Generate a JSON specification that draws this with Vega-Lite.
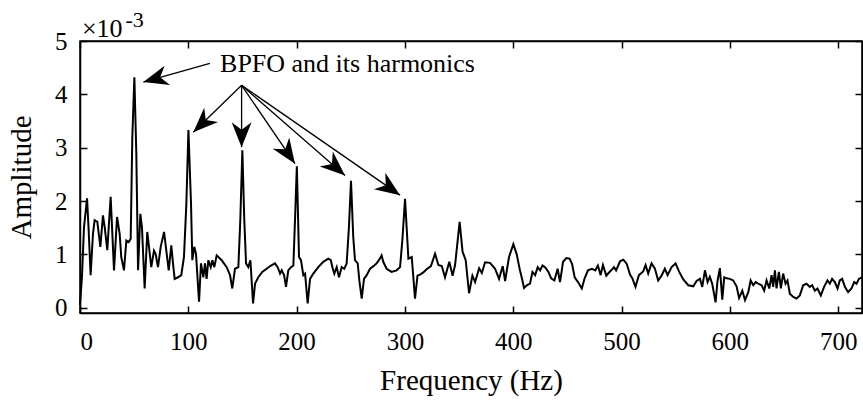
{
  "$schema": "https://vega.github.io/schema/vega-lite/v6.json",
  "width": 782,
  "height": 272,
  "autosize": {"type": "none"},
  "padding": {"left": 80, "top": 41, "right": 1, "bottom": 88},
  "background": "white",
  "config": {
    "view": {"stroke": "black", "strokeWidth": 1.5},
    "font": "Liberation Serif",
    "axis": {
      "grid": false,
      "domainColor": "black",
      "domainWidth": 1.5,
      "tickColor": "black",
      "tickWidth": 1.5,
      "labelColor": "black",
      "titleColor": "black",
      "labelFont": "Liberation Serif",
      "titleFont": "Liberation Serif",
      "titleFontWeight": "normal",
      "labelFontSize": 25,
      "titleFontSize": 29
    }
  },
  "datasets": {
    "spectrum": [
      {"f":0,"a":0.05},{"f":1.8,"a":0.57},{"f":3.7,"a":1.51},{"f":6.5,"a":2.05},{"f":8,"a":1.45},{"f":9.8,"a":0.61},
      {"f":12,"a":1.39},{"f":13.5,"a":1.64},{"f":16,"a":1.61},{"f":18.8,"a":1.14},{"f":21.2,"a":1.73},{"f":22.8,"a":1.51},
      {"f":25.2,"a":1.08},{"f":28.3,"a":2.08},{"f":31.4,"a":0.7},{"f":34.2,"a":1.7},{"f":36.6,"a":1.39},{"f":38.1,"a":0.95},
      {"f":40.6,"a":0.7},{"f":42.8,"a":1.26},{"f":44.9,"a":1.23},{"f":46.8,"a":1.29},{"f":48.3,"a":3.2},{"f":50.2,"a":4.32},
      {"f":52,"a":2.89},{"f":53.6,"a":0.7},{"f":55.7,"a":1.76},{"f":57.2,"a":1.51},{"f":59.7,"a":0.36},{"f":62.1,"a":1.42},
      {"f":63.7,"a":1.14},{"f":65.8,"a":0.76},{"f":68.3,"a":1.07},{"f":69.8,"a":1.01},{"f":72,"a":0.76},{"f":74.5,"a":1.14},
      {"f":77.6,"a":1.42},{"f":79.7,"a":1.07},{"f":81.9,"a":0.7},{"f":84.3,"a":1.17},{"f":85.9,"a":0.82},{"f":87.4,"a":0.54},
      {"f":90.5,"a":0.57},{"f":93.5,"a":0.61},{"f":96,"a":0.95},{"f":98.2,"a":1.95},{"f":100.1,"a":3.33},{"f":102.5,"a":1.95},
      {"f":103.7,"a":0.89},{"f":105.5,"a":1.14},{"f":107.1,"a":1.01},{"f":109.9,"a":0.11},{"f":111.7,"a":0.83},{"f":113.9,"a":0.57},
      {"f":115.4,"a":0.83},{"f":116.9,"a":0.54},{"f":118.5,"a":0.89},{"f":120.7,"a":0.76},{"f":122.2,"a":0.89},{"f":124,"a":0.76},
      {"f":126.2,"a":0.98},{"f":130.8,"a":0.89},{"f":135.4,"a":0.76},{"f":138.5,"a":0.61},{"f":140.6,"a":0.36},{"f":143.1,"a":0.73},
      {"f":146.2,"a":0.76},{"f":148,"a":1.64},{"f":149.9,"a":2.95},{"f":151.7,"a":1.64},{"f":153.3,"a":0.83},{"f":155.4,"a":0.76},
      {"f":157.3,"a":0.89},{"f":159.8,"a":0.08},{"f":161.6,"a":0.45},{"f":164.6,"a":0.57},{"f":168.3,"a":0.67},{"f":172.3,"a":0.73},
      {"f":176.4,"a":0.79},{"f":180,"a":0.83},{"f":182.5,"a":0.76},{"f":184.7,"a":0.64},{"f":186.2,"a":0.7},{"f":188.4,"a":0.61},
      {"f":190.2,"a":0.39},{"f":192.3,"a":0.7},{"f":194.8,"a":0.76},{"f":197,"a":0.79},{"f":198.5,"a":1.64},{"f":200.2,"a":2.65},
      {"f":202.2,"a":0.95},{"f":204,"a":0.89},{"f":206.2,"a":0.61},{"f":207.8,"a":0.64},{"f":210.2,"a":0.08},{"f":212.4,"a":0.54},
      {"f":215.4,"a":0.64},{"f":220,"a":0.76},{"f":224.6,"a":0.86},{"f":229.2,"a":0.92},{"f":231.6,"a":0.89},{"f":233,"a":0.76},
      {"f":234.8,"a":0.64},{"f":237,"a":0.76},{"f":239.1,"a":0.57},{"f":241.6,"a":0.76},{"f":244,"a":0.73},{"f":246.2,"a":0.83},
      {"f":248.3,"a":1.51},{"f":250.2,"a":2.38},{"f":252.3,"a":1.32},{"f":253.9,"a":0.89},{"f":256.4,"a":0.83},{"f":257.9,"a":0.51},
      {"f":260.1,"a":0.17},{"f":262.2,"a":0.54},{"f":264.7,"a":0.61},{"f":267.8,"a":0.73},{"f":271.7,"a":0.79},{"f":273.8,"a":0.83},
      {"f":276,"a":0.89},{"f":278.5,"a":0.98},{"f":280,"a":0.86},{"f":283.1,"a":0.73},{"f":287.7,"a":0.67},{"f":292.3,"a":0.7},
      {"f":295.5,"a":0.76},{"f":297.6,"a":1.26},{"f":300.1,"a":2.04},{"f":303.2,"a":0.92},{"f":306.3,"a":0.95},{"f":309.3,"a":0.17},
      {"f":311.6,"a":0.6},{"f":313.9,"a":0.62},{"f":317,"a":0.66},{"f":320,"a":0.72},{"f":324,"a":0.78},{"f":327.8,"a":1.01},
      {"f":330.9,"a":0.8},{"f":334,"a":0.78},{"f":337,"a":0.57},{"f":341,"a":0.86},{"f":344,"a":0.6},{"f":346.3,"a":0.8},
      {"f":350.5,"a":1.61},{"f":353.2,"a":1.05},{"f":356.1,"a":0.89},{"f":359.2,"a":0.27},{"f":362.3,"a":0.6},{"f":364.8,"a":0.48},
      {"f":368.5,"a":0.74},{"f":371,"a":0.65},{"f":374,"a":0.85},{"f":378.6,"a":0.84},{"f":383.2,"a":0.73},{"f":386.9,"a":0.54},
      {"f":390.3,"a":0.78},{"f":392.5,"a":0.5},{"f":396.1,"a":0.95},{"f":400.1,"a":1.19},{"f":403.2,"a":1.0},{"f":406.2,"a":0.7},
      {"f":408,"a":0.55},{"f":410,"a":0.37},{"f":412.5,"a":0.42},{"f":415.5,"a":0.45},{"f":417.7,"a":0.67},{"f":420.2,"a":0.61},
      {"f":422.6,"a":0.76},{"f":424.8,"a":0.7},{"f":427,"a":0.79},{"f":429.4,"a":0.76},{"f":432.5,"a":0.67},{"f":435,"a":0.55},
      {"f":438,"a":0.51},{"f":441,"a":0.73},{"f":443.2,"a":0.48},{"f":446,"a":0.86},{"f":449,"a":0.93},{"f":452,"a":0.92},
      {"f":454.3,"a":0.82},{"f":456.7,"a":0.57},{"f":459.8,"a":0.48},{"f":463.3,"a":0.36},{"f":465.9,"a":0.55},{"f":469,"a":0.7},
      {"f":472.7,"a":0.73},{"f":475.8,"a":0.7},{"f":478.2,"a":0.79},{"f":480.7,"a":0.61},{"f":482.8,"a":0.8},{"f":485.9,"a":0.6},
      {"f":488,"a":0.65},{"f":490.5,"a":0.7},{"f":493,"a":0.76},{"f":495,"a":0.7},{"f":498.6,"a":0.87},{"f":501.7,"a":0.9},
      {"f":504.8,"a":0.82},{"f":507.8,"a":0.62},{"f":510,"a":0.55},{"f":512.9,"a":0.39},{"f":516,"a":0.61},{"f":520,"a":0.68},
      {"f":522.2,"a":0.8},{"f":524.6,"a":0.64},{"f":527.7,"a":0.83},{"f":530.8,"a":0.73},{"f":533.8,"a":0.51},{"f":536.9,"a":0.6},
      {"f":540,"a":0.73},{"f":542.5,"a":0.61},{"f":546.2,"a":0.76},{"f":549.9,"a":0.83},{"f":553,"a":0.68},{"f":557,"a":0.53},
      {"f":561.6,"a":0.42},{"f":566.2,"a":0.4},{"f":569.3,"a":0.5},{"f":572.4,"a":0.54},{"f":574.5,"a":0.39},{"f":577,"a":0.7},
      {"f":579.4,"a":0.48},{"f":581.5,"a":0.58},{"f":583.7,"a":0.45},{"f":586.8,"a":0.1},{"f":588.6,"a":0.5},{"f":590.8,"a":0.74},
      {"f":593,"a":0.15},{"f":594.8,"a":0.57},{"f":597,"a":0.55},{"f":600,"a":0.54},{"f":603.1,"a":0.51},{"f":606.2,"a":0.4},
      {"f":608.5,"a":0.18},{"f":611.5,"a":0.32},{"f":614,"a":0.14},{"f":617,"a":0.29},{"f":619.2,"a":0.51},{"f":621.6,"a":0.42},
      {"f":623.8,"a":0.48},{"f":626.2,"a":0.45},{"f":629.3,"a":0.42},{"f":631.7,"a":0.32},{"f":633.9,"a":0.51},{"f":636.4,"a":0.36},
      {"f":638.5,"a":0.61},{"f":640,"a":0.39},{"f":641.6,"a":0.7},{"f":643.1,"a":0.36},{"f":645.3,"a":0.67},{"f":647.1,"a":0.36},
      {"f":649.2,"a":0.64},{"f":651.4,"a":0.45},{"f":653.2,"a":0.51},{"f":655.4,"a":0.26},{"f":658.5,"a":0.2},{"f":661.5,"a":0.17},
      {"f":664.6,"a":0.23},{"f":667.7,"a":0.42},{"f":670.8,"a":0.45},{"f":673.8,"a":0.39},{"f":676,"a":0.42},{"f":678.5,"a":0.32},
      {"f":680.9,"a":0.36},{"f":684,"a":0.23},{"f":687,"a":0.39},{"f":690.1,"a":0.51},{"f":692.3,"a":0.45},{"f":694.4,"a":0.54},
      {"f":696.9,"a":0.48},{"f":699.4,"a":0.36},{"f":701.5,"a":0.51},{"f":703.7,"a":0.54},{"f":706.2,"a":0.39},{"f":709.2,"a":0.29},
      {"f":712.3,"a":0.36},{"f":714.8,"a":0.48},{"f":717,"a":0.45},{"f":719.1,"a":0.54},{"f":722,"a":0.57}
    ],
    "arrows": [
      {"x1":119.9,"y1":4.58,"x2":58.5,"y2":4.23},
      {"x1":149.2,"y1":4.17,"x2":104.6,"y2":3.29},
      {"x1":149.2,"y1":4.17,"x2":149.2,"y2":3.01},
      {"x1":149.2,"y1":4.17,"x2":198.5,"y2":2.7},
      {"x1":149.2,"y1":4.17,"x2":244.7,"y2":2.48},
      {"x1":149.2,"y1":4.17,"x2":295.5,"y2":2.11}
    ],
    "note": [{"x":129.3,"y":4.41,"label":"BPFO and its harmonics"}],
    "mult": [{"x":1.8,"y":5.07,"label":"×10"}],
    "expo": [{"x":42,"y":5.27,"label":"-3"}]
  },
  "layer": [
    {
      "data": {"name": "spectrum"},
      "mark": {"type": "line", "color": "black", "strokeWidth": 2},
      "encoding": {
        "x": {"field": "f", "type": "quantitative",
          "scale": {"domain": [0, 722], "nice": false, "zero": false},
          "axis": {"orient": "bottom", "values": [0,100,200,300,400,500,600,700], "tickSize": -7, "labelPadding": 23,
            "labelFont": "Liberation Serif", "labelFontSize": 25,
            "title": "Frequency (Hz)", "titlePadding": 12, "titleFont": "Liberation Serif", "titleFontSize": 29}},
        "y": {"field": "a", "type": "quantitative",
          "scale": {"domain": [-0.1, 5], "nice": false, "zero": false},
          "axis": {"orient": "left", "values": [0,1,2,3,4,5], "tickSize": -7, "labelPadding": 20,
            "labelFont": "Liberation Serif", "labelFontSize": 25,
            "title": "Amplitude", "titlePadding": 18, "titleFont": "Liberation Serif", "titleFontSize": 29}}
      }
    },
    {
      "data": {"name": "arrows"},
      "mark": {"type": "rule", "color": "black", "strokeWidth": 1.3},
      "encoding": {
        "x": {"field": "x1", "type": "quantitative",
          "scale": {"domain": [0, 722], "nice": false, "zero": false},
          "axis": {"orient": "top", "values": [0,100,200,300,400,500,600,700], "tickSize": -7, "labels": false, "title": null}},
        "y": {"field": "y1", "type": "quantitative",
          "scale": {"domain": [-0.1, 5], "nice": false, "zero": false},
          "axis": {"orient": "right", "values": [0,1,2,3,4,5], "tickSize": -7, "labels": false, "title": null}},
        "x2": {"field": "x2"},
        "y2": {"field": "y2"}
      }
    },
    {
      "data": {"name": "arrows"},
      "transform": [{"calculate": "atan2((datum.x2 - datum.x1) * 1.0833, (datum.y2 - datum.y1) * 53.33) * 180 / PI", "as": "ang"}],
      "mark": {"type": "point", "shape": "M0,0L0.6,1.5L0,1.05L-0.6,1.5Z", "filled": true, "color": "black", "opacity": 1, "size": 1100, "strokeWidth": 0},
      "encoding": {
        "x": {"field": "x2", "type": "quantitative", "scale": {"domain": [0, 722], "nice": false, "zero": false}, "axis": null},
        "y": {"field": "y2", "type": "quantitative", "scale": {"domain": [-0.1, 5], "nice": false, "zero": false}, "axis": null},
        "angle": {"field": "ang", "type": "quantitative", "scale": null}
      }
    },
    {
      "data": {"name": "note"},
      "mark": {"type": "text", "align": "left", "baseline": "alphabetic", "fontSize": 26, "font": "Liberation Serif", "color": "black"},
      "encoding": {
        "x": {"field": "x", "type": "quantitative", "scale": {"domain": [0, 722], "nice": false, "zero": false}, "axis": null},
        "y": {"field": "y", "type": "quantitative", "scale": {"domain": [-0.1, 5], "nice": false, "zero": false}, "axis": null},
        "text": {"field": "label"}
      }
    },
    {
      "data": {"name": "mult"},
      "mark": {"type": "text", "align": "left", "baseline": "alphabetic", "fontSize": 26, "font": "Liberation Serif", "color": "black"},
      "encoding": {
        "x": {"field": "x", "type": "quantitative", "scale": {"domain": [0, 722], "nice": false, "zero": false}, "axis": null},
        "y": {"field": "y", "type": "quantitative", "scale": {"domain": [-0.1, 5], "nice": false, "zero": false}, "axis": null},
        "text": {"field": "label"}
      }
    },
    {
      "data": {"name": "expo"},
      "mark": {"type": "text", "align": "left", "baseline": "alphabetic", "fontSize": 22, "font": "Liberation Serif", "color": "black"},
      "encoding": {
        "x": {"field": "x", "type": "quantitative", "scale": {"domain": [0, 722], "nice": false, "zero": false}, "axis": null},
        "y": {"field": "y", "type": "quantitative", "scale": {"domain": [-0.1, 5], "nice": false, "zero": false}, "axis": null},
        "text": {"field": "label"}
      }
    }
  ],
  "resolve": {"axis": {"x": "independent", "y": "independent"}}
}
